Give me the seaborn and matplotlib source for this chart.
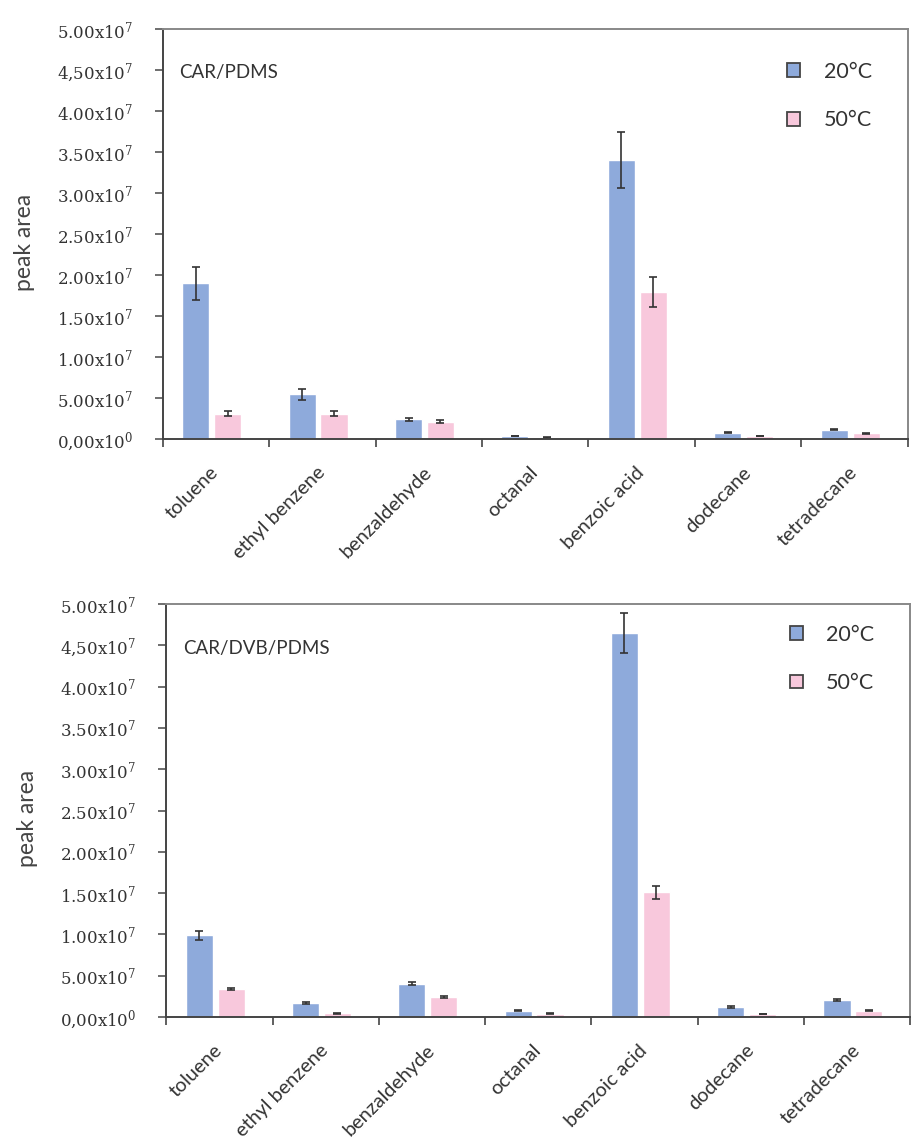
import matplotlib
matplotlib.use("Agg")
import matplotlib.pyplot as plt
import seaborn as sns
import pandas as pd
import numpy as np
from matplotlib.patches import Patch

sns.set_theme(style="white")
plt.rcParams['font.family'] = ['Lato', 'DejaVu Sans']
plt.rcParams['mathtext.fontset'] = 'dejavuserif'

compounds = ["toluene", "ethyl benzene", "benzaldehyde", "octanal",
             "benzoic acid", "dodecane", "tetradecane"]
temps = ["20°C", "50°C"]

# CAR/PDMS
pdms_20 = [1.90e7, 5.45e6, 2.40e6, 0.37e6, 3.40e7, 0.77e6, 1.15e6]
pdms_20_err = [2.0e6, 0.65e6, 0.20e6, 0.05e6, 3.4e6, 0.06e6, 0.10e6]
pdms_50 = [3.10e6, 3.10e6, 2.10e6, 0.20e6, 1.79e7, 0.37e6, 0.68e6]
pdms_50_err = [0.35e6, 0.35e6, 0.20e6, 0.04e6, 1.8e6, 0.05e6, 0.08e6]

# CAR/DVB/PDMS
dvb_20 = [9.9e6, 1.70e6, 4.05e6, 0.77e6, 4.65e7, 1.20e6, 2.10e6]
dvb_20_err = [0.55e6, 0.10e6, 0.22e6, 0.05e6, 2.4e6, 0.08e6, 0.12e6]
dvb_50 = [3.43e6, 0.44e6, 2.42e6, 0.40e6, 1.51e7, 0.36e6, 0.76e6]
dvb_50_err = [0.12e6, 0.06e6, 0.10e6, 0.05e6, 0.8e6, 0.05e6, 0.08e6]

ytick_vals = [0, 5e6, 1e7, 1.5e7, 2e7, 2.5e7, 3e7, 3.5e7, 4e7, 4.5e7, 5e7]
ytick_labels = ["0,00x10$^{0}$", "5.00x10$^{7}$", "1.00x10$^{7}$", "1.50x10$^{7}$",
                "2.00x10$^{7}$", "2.50x10$^{7}$", "3.00x10$^{7}$", "3.50x10$^{7}$",
                "4.00x10$^{7}$", "4,50x10$^{7}$", "5.00x10$^{7}$"]

panel_titles = ["CAR/PDMS", "CAR/DVB/PDMS"]
colors = ["#8eaadb", "#f8c8dc"]

fig = plt.figure(figsize=(9.14, 11.38), dpi=100)
ax1 = fig.add_axes([0.178, 0.6142, 0.815, 0.3603])
ax2 = fig.add_axes([0.182, 0.1063, 0.814, 0.3629])

panels = [
    (ax1, pdms_20, pdms_20_err, pdms_50, pdms_50_err, panel_titles[0], 0.962),
    (ax2, dvb_20, dvb_20_err, dvb_50, dvb_50_err, panel_titles[1], 0.992),
]

for ax, v20, e20, v50, e50, title, leg_y in panels:
    df = pd.DataFrame({
        "compound": compounds * 2,
        "temp": [temps[0]] * len(compounds) + [temps[1]] * len(compounds),
        "value": list(v20) + list(v50),
    })
    sns.barplot(data=df, x="compound", y="value", hue="temp", order=compounds,
                hue_order=temps, palette=colors, width=0.6, gap=0.15,
                errorbar=None, ax=ax, legend=False, saturation=1)
    for cont, vals, errs in zip(ax.containers, [v20, v50], [e20, e50]):
        for p in cont.patches:
            p.set_x(p.get_x() - 0.04)
        xs = [p.get_x() + p.get_width() / 2 for p in cont.patches]
        ax.errorbar(xs, vals, yerr=errs, fmt="none", ecolor="#333333",
                    elinewidth=1.2, capsize=3.2, capthick=1.2)
    ax.set_ylim(0, 5e7)
    ax.set_xlim(-0.5, len(compounds) - 0.5)
    ax.set_yticks(ytick_vals)
    ax.set_yticklabels(ytick_labels, fontsize=12, color="#333333",
                       family=['DejaVu Serif'])
    ax.tick_params(axis="y", direction="out", length=5.5, width=1.2,
                   color="#555555", left=True, pad=16)
    ax.set_xticks(range(len(compounds)))
    ax.set_xticklabels(compounds, rotation=45, ha="right", va="center",
                       rotation_mode="anchor", fontsize=14.3, color="#333333")
    ax.tick_params(axis="x", which="major", length=0, pad=22)
    ax.set_xticks(np.arange(-0.5, len(compounds) + 0.5, 1), minor=True)
    ax.tick_params(axis="x", which="minor", direction="out", length=6,
                   width=1.2, color="#444444", bottom=True)
    ax.set_xlabel("")
    ax.set_ylabel("peak area", fontsize=16.5, color="#444444")
    ax.yaxis.set_label_coords(-0.172, 0.48)
    for s in ["left", "bottom"]:
        ax.spines[s].set_color("#444444")
        ax.spines[s].set_linewidth(1.4)
    for s in ["top", "right"]:
        ax.spines[s].set_color("#888888")
        ax.spines[s].set_linewidth(1.4)
    ax.text(0.022, 0.893, title, transform=ax.transAxes, fontsize=13.5,
            color="#333333", va="center", ha="left")
    handles = [Patch(facecolor=c, edgecolor="#444444", linewidth=1.3) for c in colors]
    ax.legend(handles, temps, loc="upper right", bbox_to_anchor=(0.975, leg_y),
              frameon=False, fontsize=15.5, handlelength=0.6, handleheight=0.6,
              handletextpad=1.1, labelspacing=1.33, labelcolor="#333333",
              borderpad=0.3)

fig.savefig("out.png", dpi=100, facecolor="white")
